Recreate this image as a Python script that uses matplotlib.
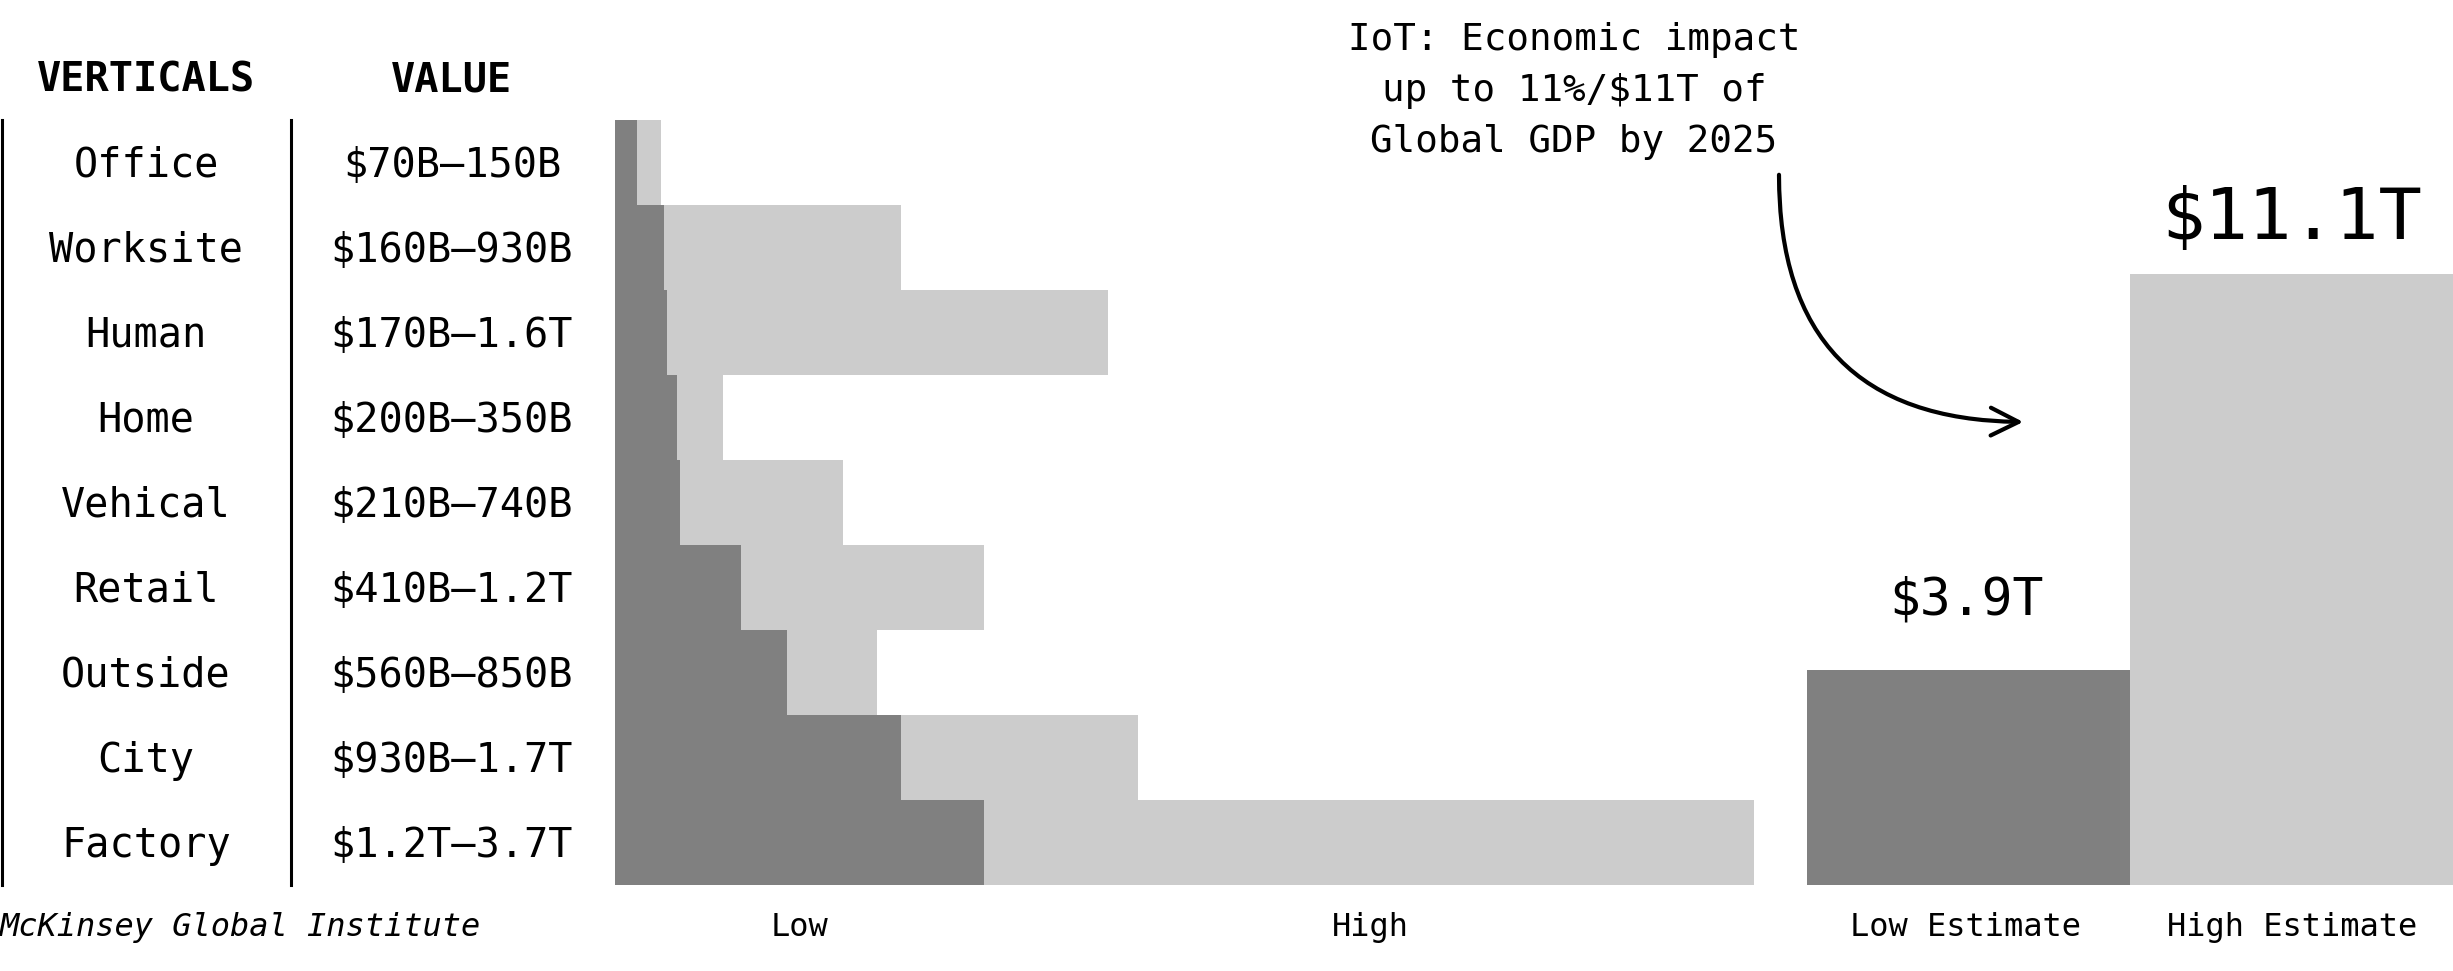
import matplotlib
matplotlib.use("Agg")
import matplotlib.pyplot as plt
from matplotlib.patches import FancyArrowPatch
import matplotlib.transforms as mtransforms

# ---- data ----
verticals = ["Office", "Worksite", "Human", "Home", "Vehical", "Retail", "Outside", "City", "Factory"]
value_labels = ["$70B\u2013150B", "$160B\u2013930B", "$170B\u20131.6T", "$200B\u2013350B", "$210B\u2013740B",
                "$410B\u20131.2T", "$560B\u2013850B", "$930B\u20131.7T", "$1.2T\u20133.7T"]
low_b = [70, 160, 170, 200, 210, 410, 560, 930, 1200]      # billions
high_b = [150, 930, 1600, 350, 740, 1200, 850, 1700, 3700]  # billions
estimate_labels = ["Low Estimate", "High Estimate"]
estimate_values = [3.9, 11.1]  # trillions
estimate_texts = ["$3.9T", "$11.1T"]

DARK = "#808080"
LIGHT = "#cccccc"
FONT = "DejaVu Sans Mono"
plt.rcParams["font.family"] = FONT

W, H = 2453, 971
fig = plt.figure(figsize=(W / 100, H / 100), dpi=100)

def fx(px):
    return px / W

def fy(py):
    return 1 - py / H

# ---- horizontal bars ----
top, bottom = 120, 885
bx0, bx1 = 615, 1754
ax = fig.add_axes([fx(bx0), fy(bottom), fx(bx1 - bx0), (bottom - top) / H])
ypos = list(range(len(verticals)))
ax.barh(ypos, high_b, height=1.0, color=LIGHT, linewidth=0)
ax.barh(ypos, low_b, height=1.0, color=DARK, linewidth=0)
ax.set_xlim(0, max(high_b))
ax.set_ylim(len(verticals) - 0.5, -0.5)
ax.axis("off")

# ---- estimate bars ----
ex0 = 1807
ax2 = fig.add_axes([fx(ex0), fy(bottom), fx(W - ex0), bottom / H])
ax2.bar([0, 1], estimate_values, width=1.0, align="edge", color=[DARK, LIGHT], linewidth=0)
ax2.set_xlim(0, 2)
ax2.set_ylim(0, 11.1 * bottom / (bottom - 274))
ax2.axis("off")
fig.text(fx(1966), fy(600), estimate_texts[0], ha="center", va="center", fontsize=37)
fig.text(fx(2292), fy(219), estimate_texts[1], ha="center", va="center", fontsize=52)

# ---- table ----
blend = mtransforms.blended_transform_factory(fig.transFigure, ax.transData)
fig.text(fx(146), fy(80), "VERTICALS", ha="center", va="center", fontsize=29, fontweight="bold")
fig.text(fx(452), fy(80), "VALUE", ha="center", va="center", fontsize=29, fontweight="bold")
for i, (v, val) in enumerate(zip(verticals, value_labels)):
    fig.text(fx(146), i + 0.04, v, ha="center", va="center", fontsize=29, transform=blend)
    fig.text(fx(452), i + 0.04, val, ha="center", va="center", fontsize=29, transform=blend)

for x in (1.5, 291):
    fig.add_artist(plt.Line2D([fx(x), fx(x)], [fy(top), fy(bottom)], color="black", linewidth=2.2,
                              transform=fig.transFigure))

# ---- bottom labels ----
fig.text(fx(0), fy(927), "McKinsey Global Institute", ha="left", va="center", fontsize=23, style="italic")
fig.text(fx(800), fy(927), "Low", ha="center", va="center", fontsize=23)
fig.text(fx(1370), fy(927), "High", ha="center", va="center", fontsize=23)
fig.text(fx(1966), fy(927), estimate_labels[0], ha="center", va="center", fontsize=23)
fig.text(fx(2292), fy(927), estimate_labels[1], ha="center", va="center", fontsize=23)

# ---- annotation ----
fig.text(fx(1574), fy(91), "IoT: Economic impact\nup to 11%/$11T of\nGlobal GDP by 2025",
         ha="center", va="center", fontsize=27, linespacing=1.55)
arrow = FancyArrowPatch((fx(1779), fy(172)), (fx(2026), fy(422)), transform=fig.transFigure,
                        connectionstyle="arc3,rad=0.5", arrowstyle="->", mutation_scale=50,
                        linewidth=3.0, color="black")
fig.add_artist(arrow)

fig.savefig("out.png", dpi=100)
